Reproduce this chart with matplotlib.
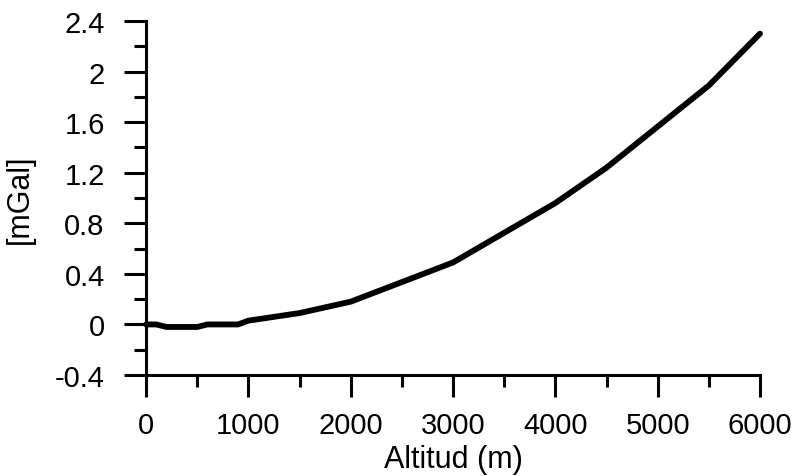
import matplotlib
matplotlib.use("Agg")
import matplotlib.pyplot as plt
from matplotlib.ticker import MultipleLocator, FuncFormatter

# altitude (m) vs correction (mGal)
altitud = [0, 100, 200, 500, 600, 900, 1000, 1500, 2000, 3000, 4000, 4500, 5500, 6000]
mgal = [0, 0, -0.02, -0.02, 0, 0, 0.03, 0.09, 0.18, 0.49, 0.96, 1.24, 1.89, 2.30]

plt.rcParams['font.family'] = ['Liberation Sans', 'DejaVu Sans']
plt.rcParams['font.size'] = 21
plt.rcParams['axes.unicode_minus'] = False

fig = plt.figure(figsize=(7.94, 4.77), dpi=100)
ax = fig.add_axes([0.1839, 0.2117, 0.7733, 0.7422])

ax.plot(altitud, mgal, color='black', lw=4.2, solid_capstyle='round',
        solid_joinstyle='round', clip_on=False)

ax.set_xlim(0, 6000)
ax.set_ylim(-0.4, 2.4)
ax.xaxis.set_major_locator(MultipleLocator(1000))
ax.xaxis.set_minor_locator(MultipleLocator(500))
ax.yaxis.set_major_locator(MultipleLocator(0.4))
ax.yaxis.set_minor_locator(MultipleLocator(0.2))
ax.yaxis.set_major_formatter(FuncFormatter(lambda v, p: '%g' % round(v, 2)))

for s in ['top', 'right']:
    ax.spines[s].set_visible(False)
for s in ['left', 'bottom']:
    ax.spines[s].set_linewidth(2.2)

ax.tick_params(which='major', length=15.8, width=2.2, direction='out')
ax.tick_params(which='minor', length=8.6, width=2.2, direction='out')
ax.tick_params(axis='y', which='major', pad=14)
ax.tick_params(axis='x', which='major', pad=10)

ax.set_xlabel('Altitud (m)', fontsize=22, labelpad=4)
ax.set_ylabel('[mGal]', fontsize=22, labelpad=14)

fig.savefig('out.png', dpi=100)
